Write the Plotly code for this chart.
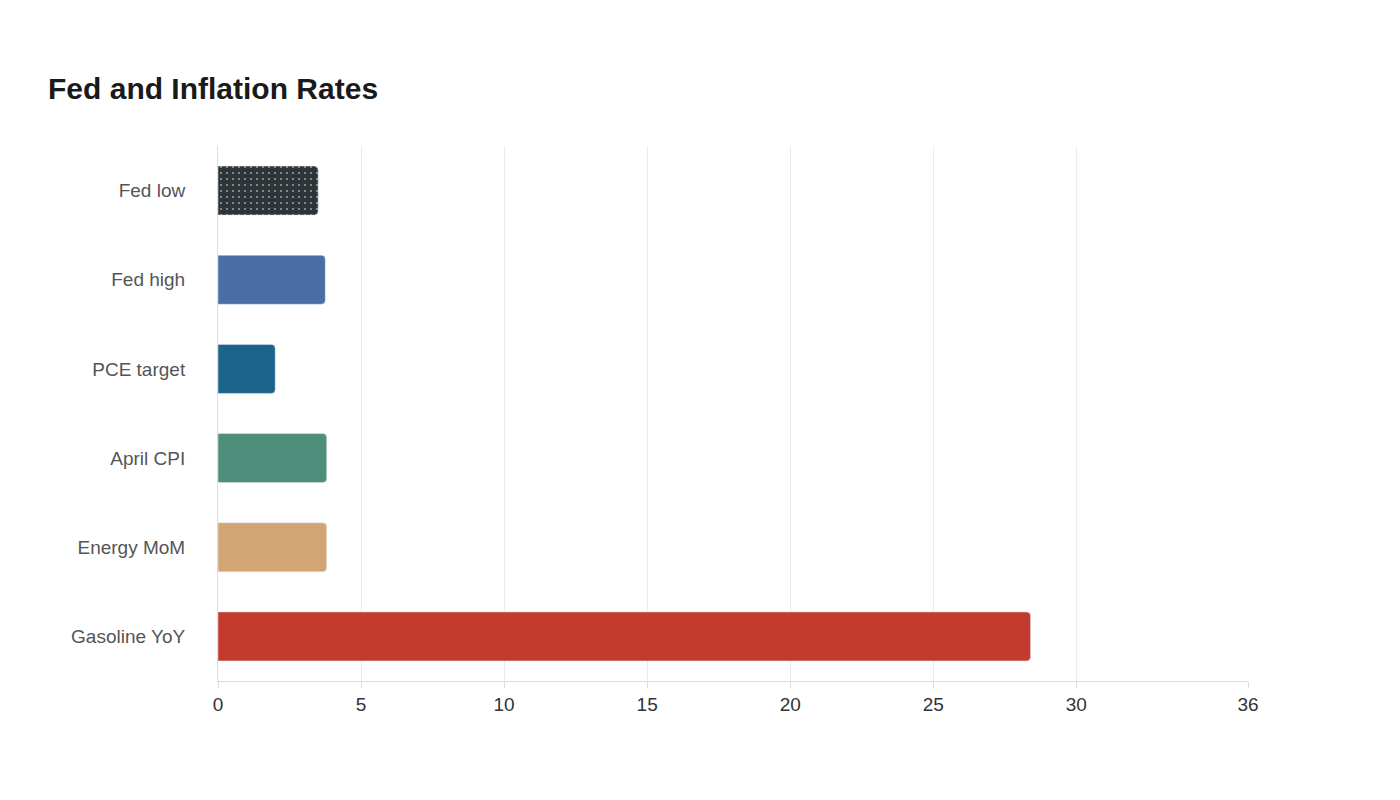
import plotly.graph_objects as go

categories = ["Fed low", "Fed high", "PCE target", "April CPI", "Energy MoM", "Gasoline YoY"]
values = [3.5, 3.75, 2.0, 3.8, 3.8, 28.4]
colors = ["#2e3538", "#4a6fa5", "#1b6389", "#4f8e7a", "#d4a574", "#c23b2d"]
tick_vals = [0, 5, 10, 15, 20, 25, 30, 36]

fig = go.Figure(go.Bar(
    y=categories, x=values, orientation="h",
    marker=dict(color=colors, cornerradius=4,
                pattern=dict(shape=[".", "", "", "", "", ""], fgcolor="#111", size=6, solidity=0.1)),
    text=[str(v) for v in values], textposition="outside",
    textfont=dict(color="white", size=14), cliponaxis=False,
    width=0.55,
))
fig.update_layout(
    width=1400, height=800, plot_bgcolor="white", paper_bgcolor="white",
    title=dict(text="<b>Fed and Inflation Rates</b>", x=0.0286, xanchor="left", y=0.9, yanchor="middle",
               font=dict(family="Liberation Sans, Arial", size=30, color="#1a1a1a")),
    font=dict(family="Liberation Sans, Arial", size=19, color="#555"),
    margin=dict(l=210, r=160, t=138, b=127),
    showlegend=False,
    xaxis=dict(range=[0, 36], tickvals=tick_vals, showgrid=True, gridcolor="#ececec",
               showline=True, linecolor="#ddd", ticks="outside", tickcolor="#ddd", ticklen=6,
               tickfont=dict(color="#333", size=19), zeroline=False),
    yaxis=dict(autorange="reversed", showline=True, linecolor="#ddd", ticks="", ticklabelstandoff=28,
               tickfont=dict(color="#555", size=19)),
)
fig.write_html("out.html")
